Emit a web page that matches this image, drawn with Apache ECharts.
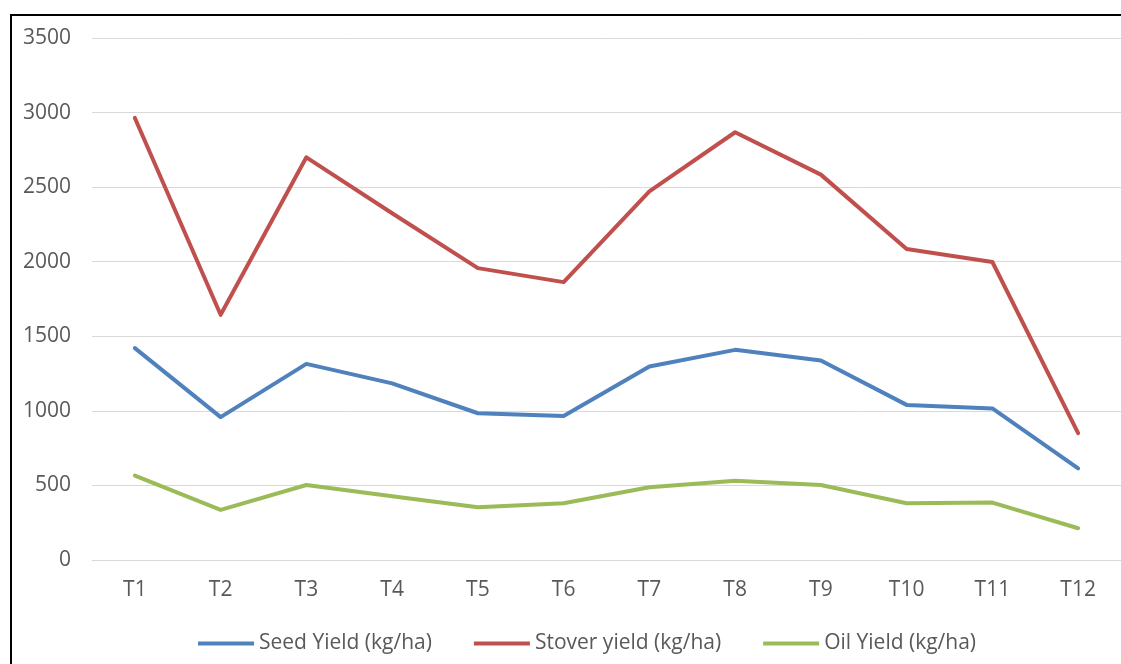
<!DOCTYPE html>
<html>
<head>
<meta charset="utf-8">
<script src="https://cdn.jsdelivr.net/npm/echarts@6/dist/echarts.min.js"></script>
<style>
  html, body { margin: 0; padding: 0; background: #fff; overflow: hidden; }
  #chart { width: 1121px; height: 664px; }
</style>
</head>
<body>
<div id="chart"></div>
<script>
// Treatments on the x axis
const treatments = ['T1', 'T2', 'T3', 'T4', 'T5', 'T6', 'T7', 'T8', 'T9', 'T10', 'T11', 'T12'];

// Yields per treatment (kg/ha)
const seedYield   = [1421, 958, 1315, 1184, 984, 966, 1297, 1409, 1338, 1040, 1016, 615];
const stoverYield = [2964, 1644, 2700, 2325, 1957, 1863, 2472, 2868, 2584, 2085, 1998, 850];
const oilYield    = [566, 336, 503, 428, 354, 380, 488, 532, 503, 380, 385, 213];

// Value axis ticks
const yTicks = [0, 500, 1000, 1500, 2000, 2500, 3000, 3500];

const seriesNames = ['Seed Yield (kg/ha)', 'Stover yield (kg/ha)', 'Oil Yield (kg/ha)'];
const seriesColors = ['#4f81bd', '#c0504d', '#9bbb59'];
const seriesData = [seedYield, stoverYield, oilYield];

const textColor = '#595959';
const font = '"Open Sans", "Liberation Sans", sans-serif';

const chart = echarts.init(document.getElementById('chart'), null, { renderer: 'canvas' });

chart.setOption({
  animation: false,
  backgroundColor: '#ffffff',
  // frame along the left and top edges
  graphic: [{
    type: 'polyline',
    shape: { points: [[11, 664], [11, 15], [1121, 15]] },
    style: { fill: null, stroke: '#000000', lineWidth: 2 },
    z: 100
  }],
  grid: {
    left: 92,
    top: 38,
    width: 1034,
    height: 522,
    containLabel: false
  },
  legend: {
    top: 628,
    left: 193,
    itemWidth: 56,
    itemHeight: 4,
    itemGap: 42,
    icon: 'rect',
    textStyle: { color: textColor, fontSize: 21, fontFamily: font },
    data: seriesNames
  },
  xAxis: {
    type: 'category',
    data: treatments,
    boundaryGap: true,
    axisLine: { show: true, lineStyle: { color: '#d9d9d9', width: 1 } },
    axisTick: { show: false },
    axisLabel: { color: textColor, fontSize: 21, fontFamily: font, margin: 20 }
  },
  yAxis: {
    type: 'value',
    min: yTicks[0],
    max: yTicks[yTicks.length - 1],
    interval: yTicks[1] - yTicks[0],
    axisLine: { show: false },
    axisTick: { show: false },
    axisLabel: { color: textColor, fontSize: 21, fontFamily: font, margin: 21, formatter: v => String(v) },
    splitLine: { show: true, lineStyle: { color: '#d9d9d9', width: 1 } }
  },
  series: seriesNames.map((name, i) => ({
    name: name,
    type: 'line',
    data: seriesData[i],
    symbol: 'none',
    lineStyle: { color: seriesColors[i], width: 4, cap: 'round', join: 'round' },
    itemStyle: { color: seriesColors[i] }
  }))
});
</script>
</body>
</html>
